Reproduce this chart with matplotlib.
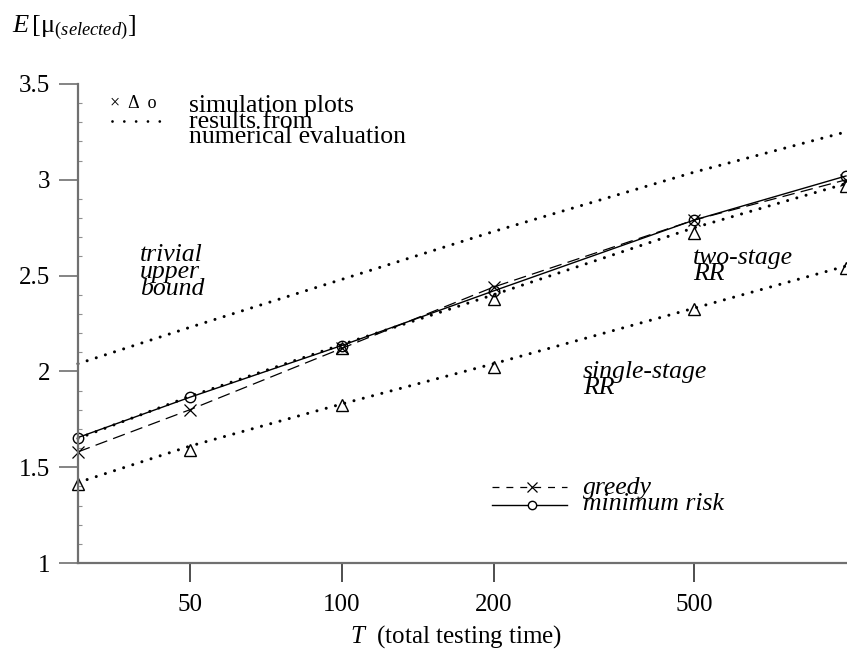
import matplotlib
matplotlib.use("Agg")
import matplotlib.pyplot as plt
from matplotlib.lines import Line2D

plt.rcParams['font.family'] = ['Liberation Serif', 'DejaVu Serif']
plt.rcParams['mathtext.fontset'] = 'custom'
plt.rcParams['mathtext.rm'] = 'Liberation Serif'
plt.rcParams['mathtext.it'] = 'Liberation Serif:italic'
plt.rcParams['lines.scale_dashes'] = False

# testing time T
T = [30, 50, 100, 200, 500, 1000]

# simulation results
greedy = [1.58, 1.80, 2.12, 2.44, 2.79, 3.00]
min_risk = [1.655, 1.865, 2.135, 2.42, 2.79, 3.02]
T_two = [100, 200, 500, 1000]
two_stage_sim = [2.12, 2.38, 2.72, 2.97]
single_stage_sim = [1.41, 1.59, 1.825, 2.025, 2.325, 2.54]

# numerical evaluation
upper_bound = [2.04, 2.23, 2.48, 2.73, 3.04, 3.25]
two_stage_num = [1.65, 1.87, 2.14, 2.40, 2.75, 2.98]
single_stage_num = [1.42, 1.61, 1.83, 2.04, 2.33, 2.55]

xticks = [50, 100, 200, 500]
yticks = [1, 1.5, 2, 2.5, 3, 3.5]

W, H = 847, 656
fig = plt.figure(figsize=(W / 100, H / 100), dpi=100)
ax = fig.add_axes([78 / W, 1 - 563 / H, (846 - 78) / W, (563 - 84) / H])

dot = dict(color='black', linewidth=2.2, linestyle=(0, (0.01, 6.9)),
           dash_capstyle='round', clip_on=False)
for vals in [upper_bound, two_stage_num, single_stage_num]:
    ax.plot(T, vals, **dot)

ax.plot(T, greedy, color='black', linewidth=0.9, linestyle=(0, (9, 4.5)),
        marker='x', markersize=9, markeredgewidth=0.9, clip_on=False)
ax.plot(T, min_risk, color='black', linewidth=1.0, linestyle='-',
        marker='o', markersize=7.5, markerfacecolor='none',
        markeredgewidth=1.0, clip_on=False)
ax.plot(T_two, two_stage_sim, linestyle='none', marker='^', markersize=9,
        markerfacecolor='none', markeredgecolor='black',
        markeredgewidth=1.0, clip_on=False)
ax.plot(T, single_stage_sim, linestyle='none', marker='^', markersize=9,
        markerfacecolor='none', markeredgecolor='black',
        markeredgewidth=1.0, clip_on=False)

ax.set_xscale('log')
ax.set_xlim(30, 1000)
ax.set_ylim(1, 3.5)
ax.set_xticks(xticks)
ax.set_xticklabels([str(t) for t in xticks])
ax.xaxis.set_minor_locator(matplotlib.ticker.NullLocator())
ax.set_yticks(yticks)
ax.set_yticklabels(['1', '1.5', '2', '2.5', '3', '3.5'])
ax.yaxis.set_minor_locator(matplotlib.ticker.MultipleLocator(0.1))

for s in ['top', 'right']:
    ax.spines[s].set_visible(False)
for s in ['left', 'bottom']:
    ax.spines[s].set_color('#707070')
    ax.spines[s].set_linewidth(1.6)
ax.tick_params(axis='both', which='major', direction='out', length=14,
               width=1.2, labelsize=18, pad=6)
ax.tick_params(axis='y', which='major', color='#707070')
ax.tick_params(axis='x', which='major', color='#303030', pad=8)
ax.tick_params(axis='y', which='minor', direction='in', length=3,
               width=0.8, color='#909090')


def px(x, y):
    return x / W, 1 - y / H


# axis titles
fig.text(*px(12, 28), r'$E\,$[μ$_{(\mathit{selected})}$]', fontsize=19,
         va='center', ha='left')
fig.text(*px(350, 637), r'$T$  (total testing time)', fontsize=18,
         va='center', ha='left')

# top legend
fig.text(*px(110, 104), '×  Δ  o', fontsize=13, va='center', ha='left')
fig.add_artist(Line2D([112 / W, 160 / W], [1 - 121 / H, 1 - 121 / H],
                      transform=fig.transFigure, color='black',
                      linewidth=2.0, linestyle=(0, (0.01, 8.5)),
                      dash_capstyle='round'))
fig.text(*px(189, 95), 'simulation plots\nresults from\nnumerical evaluation',
         fontsize=18.5, va='top', ha='left', linespacing=0.62)

# curve labels
fig.text(*px(140, 244), 'trivial\nupper\nbound', fontsize=18.5,
         style='italic', va='top', ha='left', linespacing=0.72)
fig.text(*px(693, 247), 'two-stage\nRR', fontsize=18.5,
         style='italic', va='top', ha='left', linespacing=0.62)
fig.text(*px(583, 361), 'single-stage\nRR', fontsize=18.5,
         style='italic', va='top', ha='left', linespacing=0.62)

# bottom legend
fig.add_artist(Line2D([492 / W, 567 / W], [1 - 487 / H, 1 - 487 / H],
                      transform=fig.transFigure, color='black',
                      linewidth=0.9, linestyle=(0, (5, 5))))
fig.add_artist(Line2D([532 / W], [1 - 487 / H], transform=fig.transFigure,
                      marker='x', markersize=7, color='black',
                      markeredgewidth=0.9))
fig.add_artist(Line2D([492 / W, 567 / W], [1 - 505 / H, 1 - 505 / H],
                      transform=fig.transFigure, color='black',
                      linewidth=1.0))
fig.add_artist(Line2D([532 / W], [1 - 505 / H], transform=fig.transFigure,
                      marker='o', markersize=6, markerfacecolor='white',
                      markeredgecolor='black', markeredgewidth=1.0))
fig.text(*px(583, 477), 'greedy\nminimum risk', fontsize=18.5,
         style='italic', va='top', ha='left', linespacing=0.66)

fig.savefig('out.png', dpi=100)
